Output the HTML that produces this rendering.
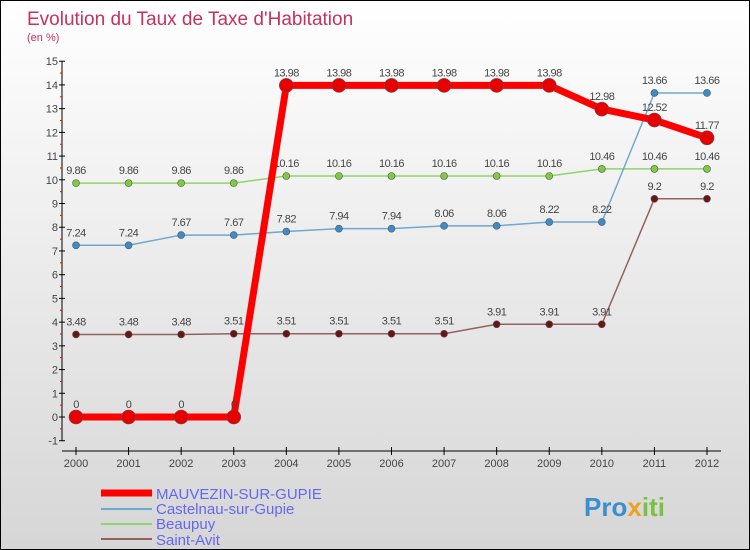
<!DOCTYPE html>
<html><head><meta charset="utf-8"><style>
body{margin:0;}
#c{width:750px;height:550px;box-sizing:border-box;border:1px solid #000;background:linear-gradient(#fff,#d6d6d6);position:relative;font-family:"Liberation Sans",sans-serif;overflow:hidden}
</style></head><body>
<div id="c">
<svg id="s" width="750" height="550" style="position:absolute;left:0;top:0">
<text x="26" y="24" font-size="19" fill="#c8305e">Evolution du Taux de Taxe d'Habitation</text>
<text x="26" y="40" font-size="11" fill="#c8305e">(en %)</text>
<g id="axes"></g><g id="series"></g>
<g>
<line x1="100" y1="492" x2="151" y2="492" stroke="#f00" stroke-width="7"/>
<text x="155" y="498" font-size="15" fill="#6666ee">MAUVEZIN-SUR-GUPIE</text>
<line x1="100" y1="508" x2="151" y2="508" stroke="#6fa8d0" stroke-width="2"/>
<text x="155" y="513" font-size="15" fill="#6666ee">Castelnau-sur-Gupie</text>
<line x1="100" y1="523" x2="151" y2="523" stroke="#8fd46a" stroke-width="2"/>
<text x="155" y="528" font-size="15" fill="#6666ee">Beaupuy</text>
<line x1="100" y1="538" x2="151" y2="538" stroke="#946060" stroke-width="2"/>
<text x="155" y="544" font-size="15" fill="#6666ee">Saint-Avit</text>
</g>
<text x="583" y="515" font-size="26" font-weight="bold" fill="#3a8fd0">Pro<tspan fill="#f0a020">x</tspan><tspan fill="#7cc040">iti</tspan></text>
</svg>
</div>
<script>
const years=[2000,2001,2002,2003,2004,2005,2006,2007,2008,2009,2010,2011,2012];
const yTicks=[-1,0,1,2,3,4,5,6,7,8,9,10,11,12,13,14,15];
const mauvezin=[0,0,0,0,13.98,13.98,13.98,13.98,13.98,13.98,12.98,12.52,11.77];
const castelnau=[7.24,7.24,7.67,7.67,7.82,7.94,7.94,8.06,8.06,8.22,8.22,13.66,13.66];
const beaupuy=[9.86,9.86,9.86,9.86,10.16,10.16,10.16,10.16,10.16,10.16,10.46,10.46,10.46];
const saintAvit=[3.48,3.48,3.48,3.51,3.51,3.51,3.51,3.51,3.91,3.91,3.91,9.2,9.2];
const NS="http://www.w3.org/2000/svg";
const xs=i=>75+i*(706-75)/(years.length-1);
const ys=v=>416-v*23.72;
function mk(t,a,p){const e=document.createElementNS(NS,t);for(const k in a)e.setAttribute(k,a[k]);p.appendChild(e);return e;}
const ax=document.getElementById('axes'),se=document.getElementById('series');
let yl=mk('line',{x1:61,y1:ys(15),x2:61,y2:ys(-1),stroke:'#000'},ax);


yTicks.forEach(v=>{
 mk('line',{x1:58,y1:ys(v),x2:64,y2:ys(v),stroke:'#000'},ax);
 if(v<15) mk('line',{x1:59,y1:ys(v+0.5),x2:61,y2:ys(v+0.5),stroke:'#f00'},ax);
 const t=mk('text',{x:57,y:ys(v)+4,'font-size':11,fill:'#444','text-anchor':'end'},ax);
 
 
 t.textContent=v;
});
let xl=mk('line',{x1:61,y1:450,x2:720,y2:450,stroke:'#000'},ax);


years.forEach((y,i)=>{
 mk('line',{x1:xs(i),y1:446,x2:xs(i),y2:454,stroke:'#000'},ax);
 const t=mk('text',{x:xs(i),y:466,'font-size':11,fill:'#444','text-anchor':'middle'},ax);
 
 
 t.textContent=y;
});
function draw(vals,color,w,r,dot,name){
 const g=mk('g',{},se);
 
 
 const p=mk('polyline',{points:vals.map((v,i)=>xs(i)+','+ys(v)).join(' '),fill:'none',stroke:color,'stroke-width':w,'stroke-linejoin':'round'},g);
 
 
 vals.forEach((v,i)=>{
  const c=mk('circle',{cx:xs(i),cy:ys(v),r:r,fill:dot,stroke:'#555','stroke-width':0.6},g);
  
  
  const t=mk('text',{x:xs(i),y:ys(v)-9,'font-size':11,fill:'#444','text-anchor':'middle','letter-spacing':'-0.5'},g);
  
  
  t.textContent=v;
 });
}
draw(saintAvit,'#946060',1.5,3.5,'#6a1515','saint-avit');
draw(beaupuy,'#8fd46a',1.5,3.5,'#7ccc3c','beaupuy');
draw(castelnau,'#6fa8d0',1.5,3.5,'#3d8cc8','castelnau');
draw(mauvezin,'#f00',7,7,'#e80000','mauvezin');
</script>
</body></html>
